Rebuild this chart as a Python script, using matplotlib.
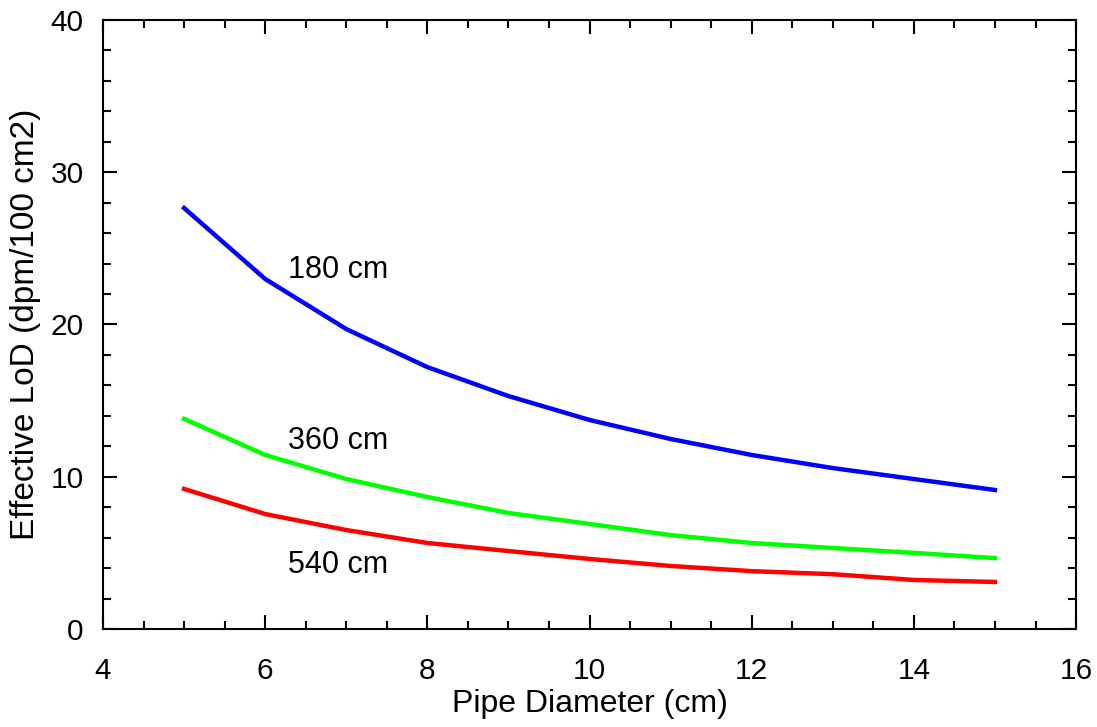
import numpy as np
import matplotlib.pyplot as plt
from matplotlib.ticker import MultipleLocator

plt.rcParams['font.family'] = ['Liberation Sans', 'DejaVu Sans']

#pipe diameter in cm
diameter = [5, 6, 7, 8, 9, 10, 11, 12, 13, 14, 15]
#effective LoD for each distance
lod_180 = [27.65, 22.99, 19.7, 17.2, 15.3, 13.73, 12.48, 11.43, 10.57, 9.85, 9.13]
lod_360 = [13.8, 11.43, 9.85, 8.67, 7.62, 6.9, 6.17, 5.65, 5.32, 5.0, 4.66]
lod_540 = [9.2, 7.55, 6.5, 5.65, 5.12, 4.6, 4.14, 3.8, 3.6, 3.22, 3.09]
labels = ['180 cm', '360 cm', '540 cm']
label_y = [23.6, 12.35, 4.2]

fig = plt.figure(figsize=(10.97, 7.27), dpi=100)
ax = fig.add_axes([0.0939, 0.1348, 0.887, 0.8377])

ax.plot(diameter, lod_180, color='#0000ff', lw=3.2)
ax.plot(diameter, lod_360, color='#00ff00', lw=3.2)
ax.plot(diameter, lod_540, color='#ff0000', lw=3.2)

for lab, ly in zip(labels, label_y):
    ax.text(6.28, ly, lab, fontsize=22, va='center', ha='left')

ax.set_xlim(4, 16)
ax.set_ylim(0, 40)
ax.xaxis.set_major_locator(MultipleLocator(2))
ax.xaxis.set_minor_locator(MultipleLocator(0.5))
ax.yaxis.set_major_locator(MultipleLocator(10))
ax.yaxis.set_minor_locator(MultipleLocator(2))
ax.tick_params(which='both', direction='in', top=True, right=True, width=1.5, labelsize=21.5)
ax.tick_params(which='major', length=10)
ax.tick_params(which='minor', length=6)
ax.tick_params(axis='x', pad=20)
ax.tick_params(axis='y', pad=14)
for s in ax.spines.values():
    s.set_linewidth(1.5)

ax.set_xlabel('Pipe Diameter (cm)', fontsize=23, labelpad=3)
ax.set_ylabel('Effective LoD (dpm/100 cm2)', fontsize=24, labelpad=7)

fig.savefig('out.png', dpi=100)
